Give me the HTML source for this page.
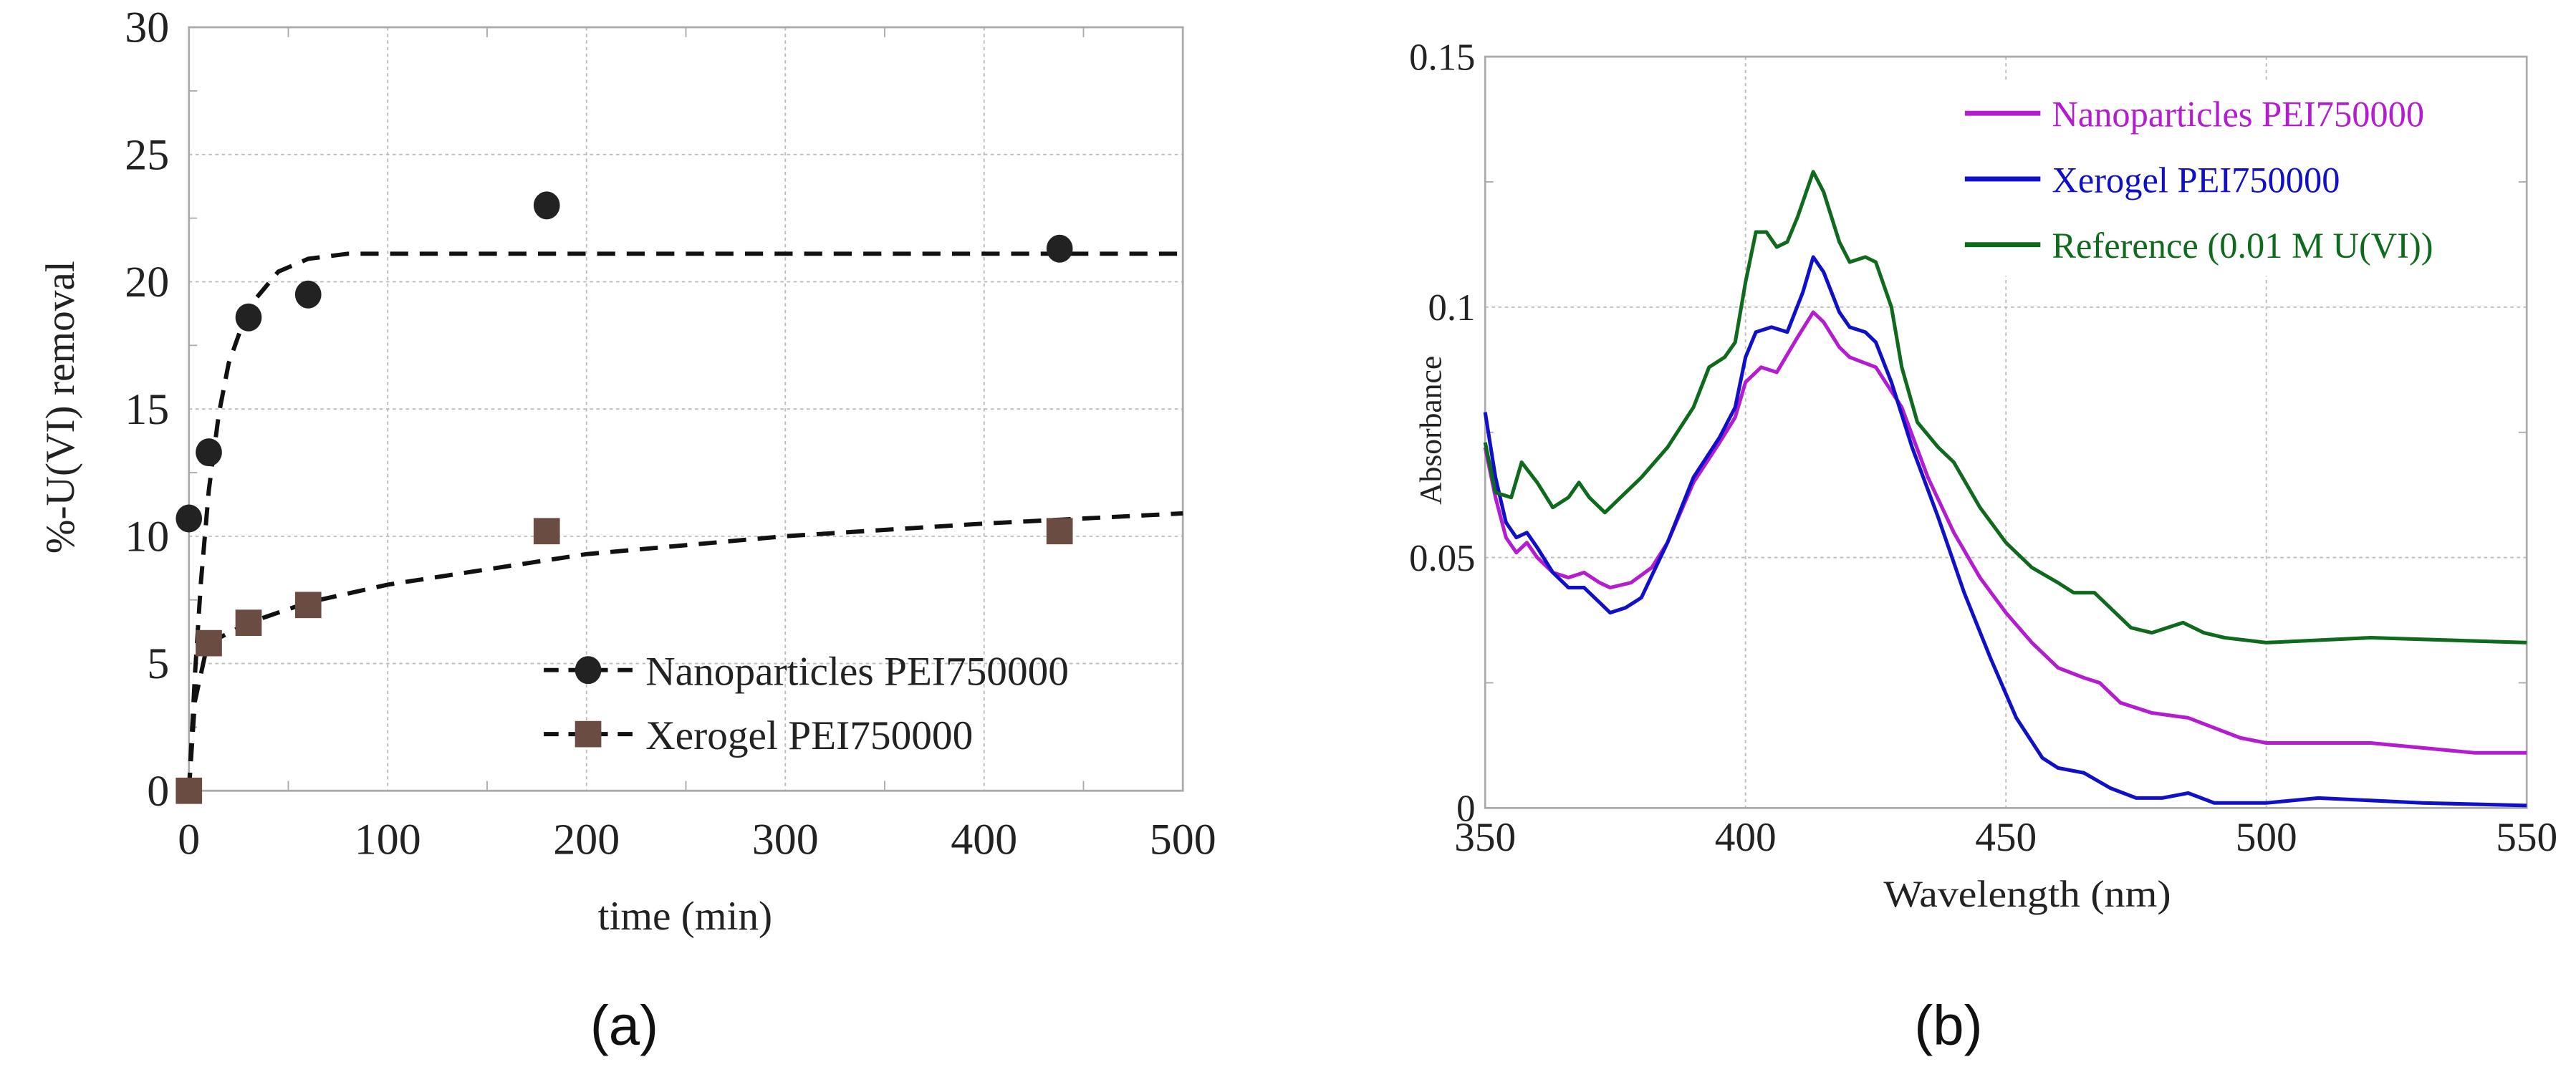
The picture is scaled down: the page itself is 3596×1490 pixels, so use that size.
<!DOCTYPE html>
<html><head><meta charset="utf-8"><style>
html,body{margin:0;padding:0;background:#fff;}
svg{display:block;font-family:"Liberation Serif",serif;}
</style></head><body>
<svg id="fig" width="3596" height="1490" viewBox="0 0 1568 649.7" xmlns="http://www.w3.org/2000/svg">
<g id="chartA"></g>
<g id="chartB"></g>
</svg>
<script>
// ---------- Chart (a) data ----------
const nanoTime = [0, 10, 30, 60, 180, 438];
const nanoRemoval = [10.7, 13.3, 18.6, 19.5, 23.0, 21.3];
const xeroTime = [0, 10, 30, 60, 180, 438];
const xeroRemoval = [0, 5.8, 6.6, 7.3, 10.2, 10.2];
const nanoFitT = [0, 3, 6, 10, 15, 20, 30, 45, 60, 80, 100, 500];
const nanoFitY = [0, 4.5, 8.2, 11.8, 14.8, 16.8, 19.0, 20.4, 20.9, 21.1, 21.1, 21.1];
const xeroFitT = [0, 3, 8, 15, 30, 60, 100, 200, 300, 400, 500];
const xeroFitY = [0, 3.5, 5.3, 6.0, 6.6, 7.4, 8.1, 9.3, 10.0, 10.5, 10.9];
const aXTicks = [0, 100, 200, 300, 400, 500];
const aYTicks = [0, 5, 10, 15, 20, 25, 30];

// ---------- Chart (b) data ----------
const refWl = [350,352,355,357,360,363,366,368,370,373,376,380,385,390,393,396,398,400,402,404,406,408,410,413,415,418,420,423,425,428,430,433,437,440,445,450,455,460,463,467,470,474,478,484,488,492,500,520,550];
const refAbs = [0.073,0.063,0.062,0.069,0.065,0.060,0.062,0.065,0.062,0.059,0.062,0.066,0.072,0.080,0.088,0.090,0.093,0.105,0.115,0.115,0.112,0.113,0.118,0.127,0.123,0.113,0.109,0.110,0.109,0.100,0.088,0.077,0.072,0.069,0.060,0.053,0.048,0.045,0.043,0.043,0.040,0.036,0.035,0.037,0.035,0.034,0.033,0.034,0.033];
const xeroWl = [350,352,354,356,358,360,363,366,369,372,374,377,380,385,390,395,398,400,402,405,408,411,413,415,418,420,423,425,428,432,437,442,447,452,457,460,465,470,475,480,485,490,500,510,530,550];
const xeroAbs = [0.079,0.066,0.057,0.054,0.055,0.052,0.047,0.044,0.044,0.041,0.039,0.040,0.042,0.053,0.066,0.074,0.080,0.090,0.095,0.096,0.095,0.103,0.110,0.107,0.099,0.096,0.095,0.093,0.085,0.072,0.058,0.043,0.030,0.018,0.010,0.008,0.007,0.004,0.002,0.002,0.003,0.001,0.001,0.002,0.001,0.0005];
const nanoWl = [350,352,354,356,358,360,363,366,369,372,374,378,382,385,390,395,398,400,403,406,410,413,415,418,420,425,430,435,440,445,450,455,460,465,468,472,478,485,490,495,500,520,540,550];
const nanoAbs = [0.072,0.062,0.054,0.051,0.053,0.050,0.047,0.046,0.047,0.045,0.044,0.045,0.048,0.053,0.065,0.073,0.078,0.085,0.088,0.087,0.094,0.099,0.097,0.092,0.090,0.088,0.080,0.066,0.055,0.046,0.039,0.033,0.028,0.026,0.025,0.021,0.019,0.018,0.016,0.014,0.013,0.013,0.011,0.011];
const bXTicks = [350, 400, 450, 500, 550];
const bYTicks = [0, 0.05, 0.1, 0.15];
const bYTickLabels = ["0", "0.05", "0.1", "0.15"];

const NS = "http://www.w3.org/2000/svg";
function mk(parent, tag, attrs, text){
  const e = document.createElementNS(NS, tag);
  for (const k in attrs) e.setAttribute(k, attrs[k]);
  if (text !== undefined) e.textContent = text;
  parent.appendChild(e);
  return e;
}

// ---------- Chart (a) ----------
(function(){
  const g = document.getElementById('chartA');
  const L = 115, R = 720, T = 16.6, B = 481.5;
  const xs = t => L + (t - 0) / 500 * (R - L);
  const ys = v => B - v / 30 * (B - T);
  aXTicks.slice(1, -1).forEach(t => {
    const l = mk(g, 'line', {x1: xs(t), x2: xs(t), y1: T, y2: B, stroke: '#bbb', 'stroke-width': 0.8, 'stroke-dasharray': '2 2'});
    
    
  });
  aYTicks.slice(1, -1).forEach(v => {
    const l = mk(g, 'line', {x1: L, x2: R, y1: ys(v), y2: ys(v), stroke: '#bbb', 'stroke-width': 0.8, 'stroke-dasharray': '2 2'});
    
    
  });
  for (let t = 50; t < 500; t += 100) {
    mk(g, 'line', {x1: xs(t), x2: xs(t), y1: T, y2: T + 6, stroke: '#aaa', 'stroke-width': 0.8});
    mk(g, 'line', {x1: xs(t), x2: xs(t), y1: B, y2: B - 6, stroke: '#aaa', 'stroke-width': 0.8});
  }
  for (let v = 2.5; v < 30; v += 5) {
    mk(g, 'line', {x1: L, x2: L + 5, y1: ys(v), y2: ys(v), stroke: '#aaa', 'stroke-width': 0.8});
  }
  const frame = mk(g, 'rect', {x: L, y: T, width: R - L, height: B - T, fill: 'none', stroke: '#aaa', 'stroke-width': 1.2});
  
  
  aXTicks.forEach(t => {
    const tx = mk(g, 'text', {x: xs(t), y: 520, 'font-size': 27, 'text-anchor': 'middle', fill: '#222'}, String(t));
    
    
  });
  aYTicks.forEach(v => {
    const tx = mk(g, 'text', {x: L - 12, y: ys(v) + 9, 'font-size': 27, 'text-anchor': 'end', fill: '#222'}, String(v));
    
    
  });
  const xt = mk(g, 'text', {x: 417, y: 566, 'font-size': 25, 'text-anchor': 'middle', fill: '#222'}, 'time (min)');
  
  
  const yt = mk(g, 'text', {x: 0, y: 0, 'font-size': 25, 'text-anchor': 'middle', fill: '#222', transform: 'translate(45,248) rotate(-90)'}, '%-U(VI) removal');
  
  
  const fitPath = (T_, Y_) => T_.map((t, i) => (i ? 'L' : 'M') + xs(t).toFixed(1) + ',' + ys(Y_[i]).toFixed(1)).join(' ');
  const f1 = mk(g, 'path', {d: fitPath(nanoFitT, nanoFitY), fill: 'none', stroke: '#111', 'stroke-width': 2.6, 'stroke-dasharray': '11 7'});
  
  
  const f2 = mk(g, 'path', {d: fitPath(xeroFitT, xeroFitY), fill: 'none', stroke: '#111', 'stroke-width': 2.6, 'stroke-dasharray': '11 7'});
  
  
  nanoTime.forEach((t, i) => {
    const c = mk(g, 'ellipse', {cx: xs(t), cy: ys(nanoRemoval[i]), rx: 8, ry: 8.5, fill: '#222'});
    
    
  });
  xeroTime.forEach((t, i) => {
    const s = mk(g, 'rect', {x: xs(t) - 8, y: ys(xeroRemoval[i]) - 8, width: 16, height: 16, fill: '#6b4c42'});
    
    
  });
  const leg = mk(g, 'g', {});
  
  
  const e1 = mk(leg, 'g', {});
  
  
  mk(e1, 'line', {x1: 331, x2: 386, y1: 408, y2: 408, stroke: '#111', 'stroke-width': 2.6, 'stroke-dasharray': '9 6'});
  mk(e1, 'ellipse', {cx: 358, cy: 408, rx: 8, ry: 8.5, fill: '#222'});
  mk(e1, 'text', {x: 393, y: 417, 'font-size': 25, fill: '#222'}, 'Nanoparticles PEI750000');
  const e2 = mk(leg, 'g', {});
  
  
  mk(e2, 'line', {x1: 331, x2: 386, y1: 447, y2: 447, stroke: '#111', 'stroke-width': 2.6, 'stroke-dasharray': '9 6'});
  mk(e2, 'rect', {x: 350, y: 439, width: 16, height: 16, fill: '#6b4c42'});
  mk(e2, 'text', {x: 393, y: 456, 'font-size': 25, fill: '#222'}, 'Xerogel PEI750000');
  const lab = mk(g, 'text', {x: 380, y: 636, 'font-size': 34, 'text-anchor': 'middle', fill: '#111', 'font-family': '"Liberation Sans", sans-serif'}, '(a)');
  
  
})();

// ---------- Chart (b) ----------
(function(){
  const g = document.getElementById('chartB');
  const L = 904, R = 1538, T = 34.5, B = 492;
  const xs = w => L + (w - 350) / 200 * (R - L);
  const ys = a => B - a / 0.15 * (B - T);
  bXTicks.slice(1, -1).forEach(w => {
    const l = mk(g, 'line', {x1: xs(w), x2: xs(w), y1: T, y2: B, stroke: '#bbb', 'stroke-width': 0.8, 'stroke-dasharray': '2 2'});
    
    
  });
  bYTicks.slice(1, -1).forEach(a => {
    const l = mk(g, 'line', {x1: L, x2: R, y1: ys(a), y2: ys(a), stroke: '#bbb', 'stroke-width': 0.8, 'stroke-dasharray': '2 2'});
    
    
  });
  for (let a = 0.025; a < 0.15; a += 0.05) {
    mk(g, 'line', {x1: L, x2: L + 5, y1: ys(a), y2: ys(a), stroke: '#aaa', 'stroke-width': 0.8});
    mk(g, 'line', {x1: R, x2: R - 5, y1: ys(a), y2: ys(a), stroke: '#aaa', 'stroke-width': 0.8});
  }
  const frame = mk(g, 'rect', {x: L, y: T, width: R - L, height: B - T, fill: 'none', stroke: '#aaa', 'stroke-width': 1.2});
  
  
  bXTicks.forEach(w => {
    const tx = mk(g, 'text', {x: xs(w), y: 518, 'font-size': 25, 'text-anchor': 'middle', fill: '#222'}, String(w));
    
    
  });
  bYTicks.forEach((a, i) => {
    const tx = mk(g, 'text', {x: L - 6, y: ys(a) + 8, 'font-size': 23, 'text-anchor': 'end', fill: '#222'}, bYTickLabels[i]);
    
    
  });
  const xt = mk(g, 'text', {x: 1234, y: 552, 'font-size': 23, 'text-anchor': 'middle', fill: '#222', textLength: 175, lengthAdjust: 'spacingAndGlyphs'}, 'Wavelength (nm)');
  
  
  const yt = mk(g, 'text', {x: 0, y: 0, 'font-size': 19, 'text-anchor': 'middle', fill: '#222', transform: 'translate(877,262) rotate(-90)'}, 'Absorbance');
  
  
  const sp = (W, A) => W.map((w, i) => (i ? 'L' : 'M') + xs(w).toFixed(1) + ',' + ys(A[i]).toFixed(1)).join(' ');
  const s1 = mk(g, 'path', {d: sp(nanoWl, nanoAbs), fill: 'none', stroke: '#b41cd0', 'stroke-width': 2.2, 'stroke-linejoin': 'round'});
  
  
  const s2 = mk(g, 'path', {d: sp(xeroWl, xeroAbs), fill: 'none', stroke: '#1010c8', 'stroke-width': 2.2, 'stroke-linejoin': 'round'});
  
  
  const s3 = mk(g, 'path', {d: sp(refWl, refAbs), fill: 'none', stroke: '#0f6a1e', 'stroke-width': 2.2, 'stroke-linejoin': 'round'});
  
  
  const leg = mk(g, 'g', {});
  
  
  mk(leg, 'rect', {x: 1190, y: 50, width: 340, height: 118, fill: '#fff'});
  const entries = [['#b41cd0', 'Nanoparticles PEI750000', 69, 'legend-entry-nanoparticles'], ['#1010c8', 'Xerogel PEI750000', 109, 'legend-entry-xerogel'], ['#0f6a1e', 'Reference (0.01 M U(VI))', 149, 'legend-entry-reference']];
  entries.forEach(en => {
    const eg = mk(leg, 'g', {});
    
    
    mk(eg, 'line', {x1: 1196, x2: 1242, y1: en[2], y2: en[2], stroke: en[0], 'stroke-width': 3});
    mk(eg, 'text', {x: 1249, y: en[2] + 8, 'font-size': 22, fill: en[0]}, en[1]);
  });
  const lab = mk(g, 'text', {x: 1186, y: 636, 'font-size': 34, 'text-anchor': 'middle', fill: '#111', 'font-family': '"Liberation Sans", sans-serif'}, '(b)');
  
  
})();
</script>
</body></html>
